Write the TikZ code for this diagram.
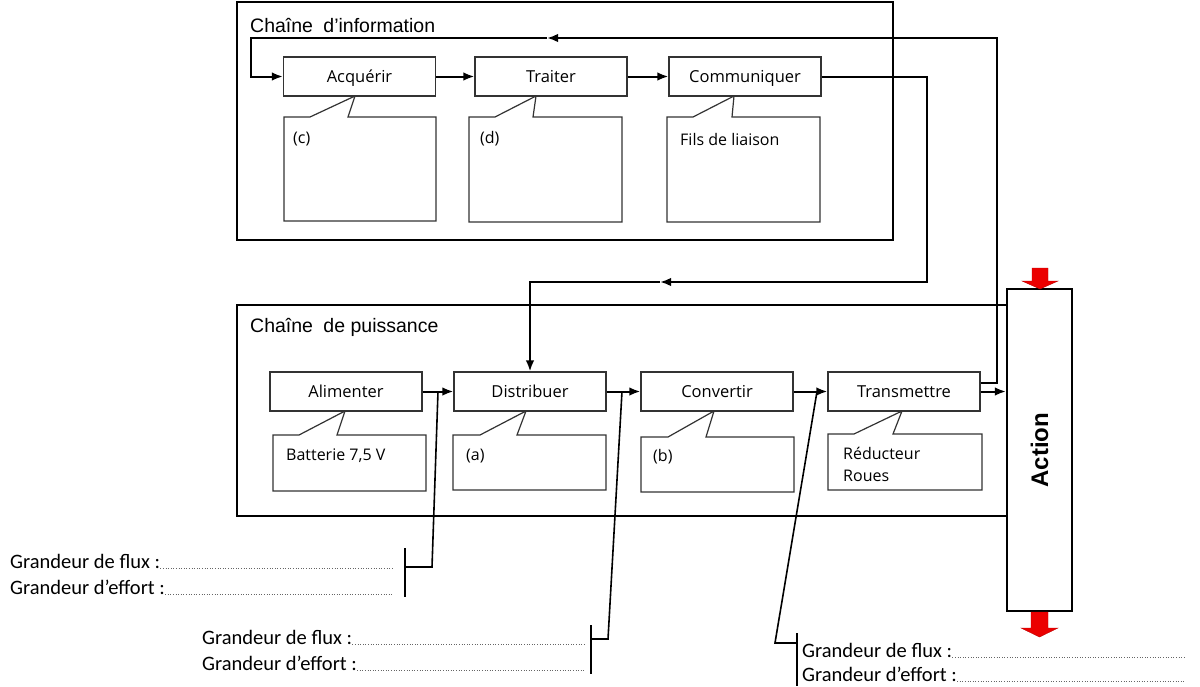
\documentclass[tikz,border=0pt]{standalone}
\usepackage{fontspec}
\setmainfont{Open Sans}
\newfontfamily\arialf{Liberation Sans}
\newfontfamily\calif{Carlito}
\usetikzlibrary{arrows.meta,calc}
\begin{document}
\begin{tikzpicture}[x=1pt,y=-1pt,
  frame/.style={draw=black, line width=2.2pt},
  fbox/.style={draw=black!80, line width=1.2pt, fill=white, minimum width=152pt, minimum height=39pt, inner sep=0pt, text height=14pt, text depth=2pt, font=\fontsize{16.5}{19}\selectfont},
  callout/.style={draw=black!80, line width=1.2pt, fill=white, line join=miter},
  ctext/.style={anchor=west, inner sep=0pt, font=\fontsize{16}{19}\selectfont},
  conn/.style={line width=2pt, draw=black},
  arr/.style={-{Latex[length=11pt,width=8.5pt]}},
  lead/.style={line width=1.6pt, draw=black},
  gtext/.style={anchor=base west, inner sep=0pt, font=\calif\fontsize{20.5}{24}\selectfont},
  dotl/.style={draw=black!60, line width=0.6pt, dotted},
  title/.style={anchor=west, inner sep=0pt, font=\arialf\fontsize{19.5}{22}\selectfont},
  redarrow/.style={fill={rgb,255:red,235;green,0;blue,0}, draw={rgb,255:red,190;green,0;blue,0}, line width=0.4pt}
]
\useasboundingbox (0,0) rectangle (1200,686);

% frames
\draw[frame] (237,2) rectangle (893,240);
\draw[frame] (237,305) rectangle (1007,516);
\node[title] (t1) at (250,25) {Chaîne\hspace{5pt} d’information};
\node[title] (t2) at (250,327) {Chaîne\hspace{5pt} de puissance};

% info callouts
\draw[callout] (284,117) -- (310,117) -- (355,96) -- (348,117) -- (436,117) -- (436,221) -- (284,221) -- cycle;
\draw[callout] (469,117) -- (495,117) -- (536,96) -- (533,117) -- (622,117) -- (622,222) -- (469,222) -- cycle;
\draw[callout] (667,117) -- (693,117) -- (734,96) -- (732,117) -- (820,117) -- (820,222) -- (667,222) -- cycle;
\node[ctext] (cc) at (293,139) {(c)};
\node[ctext] (cd) at (480,139) {(d)};
\node[ctext] (cf) at (680,139) {Fils de liaison};

% power callouts
\draw[callout] (273,435) -- (299,435) -- (345,411) -- (337,435) -- (426,435) -- (426,491) -- (273,491) -- cycle;
\draw[callout] (453,435) -- (480,435) -- (526,411) -- (517,435) -- (606,435) -- (606,490) -- (453,490) -- cycle;
\draw[callout] (641,437) -- (668,437) -- (714,411) -- (706,437) -- (794,437) -- (794,492) -- (641,492) -- cycle;
\draw[callout] (828,434) -- (854,434) -- (902,411) -- (893,434) -- (982,434) -- (982,490) -- (828,490) -- cycle;
\node[ctext] (cbat) at (286,456) {Batterie 7,5 V};
\node[ctext] (ca) at (466,456) {(a)};
\node[ctext] (cb) at (653,457) {(b)};
\node[ctext] (cr1) at (843,453) {Réducteur};
\node[ctext] (cr2) at (843,476) {Roues};

% info boxes
\node[fbox] (Acq) at (359.5,76.5) {Acquérir};
\node[fbox] (Trt) at (551,76.5) {Traiter};
\node[fbox] (Com) at (745,76.5) {Communiquer};

% power boxes
\node[fbox] (Ali) at (346,391.5) {Alimenter};
\node[fbox] (Dis) at (530,391.5) {Distribuer};
\node[fbox] (Cnv) at (717,391.5) {Convertir};
\node[fbox] (Tra) at (904,391.5) {Transmettre};

% action
\node[draw=black, line width=2.2pt, fill=white, minimum width=65pt, minimum height=322pt, inner sep=0pt] (Act) at (1039.5,450) {};
\node[rotate=90, inner sep=0pt, font=\arialf\bfseries\fontsize{24}{28}\selectfont] (ActT) at (Act.center) {Action};
\draw[redarrow] (1032,268) -- (1048,268) -- (1048,281) -- (1058,281) -- (1040,289) -- (1022,281) -- (1032,281) -- cycle;
\draw[redarrow] (1031,612) -- (1048,612) -- (1048,628) -- (1058,628) -- (1039.5,637) -- (1021,628) -- (1031,628) -- cycle;

% info connectors
\draw[conn,arr] (Acq.east) -- (Trt.west);
\draw[conn,arr] (Trt.east) -- (Com.west);
\coordinate (c1) at (927,282);
\coordinate (c2) at (660,282);
\draw[conn,arr] (Com.east) -| (c1) -- (c2);
\draw[conn,arr] (c2) -| (Dis.north);

% feedback
\coordinate (fbR) at (997,38);
\coordinate (fbM) at (547,38);
\coordinate (fbL) at (251,38);
\draw[conn,arr] ([yshift=8.5pt]Tra.east) -| (fbR) -- (fbM);
\draw[conn,arr] (fbM) -- (fbL) |- (Acq.west);

% power connectors
\draw[conn,arr] (Ali.east) -- (Dis.west);
\draw[conn,arr] (Dis.east) -- (Cnv.west);
\draw[conn,arr] (Cnv.east) -- (Tra.west);
\draw[conn,arr] (Tra.east) -- (Tra.east -| Act.west);

% leaders
\coordinate (l1s) at (438,391.5);
\coordinate (l1c) at (432,567);
\coordinate (l1e) at (405,567);
\coordinate (b1t) at (405,548);
\coordinate (b1b) at (405,597);
\draw[lead] (l1s) -- (l1c) -- (l1e);
\draw[lead] (b1t) -- (b1b);

\coordinate (l2s) at (622,391.5);
\coordinate (l2c) at (608,639);
\coordinate (l2e) at (591,639);
\coordinate (b2t) at (591,625);
\coordinate (b2b) at (591,674);
\draw[lead] (l2s) -- (l2c) -- (l2e);
\draw[lead] (b2t) -- (b2b);

\coordinate (l3s) at (817,391.5);
\coordinate (l3c) at (775,643);
\coordinate (l3e) at (797,643);
\coordinate (b3t) at (797,633);
\coordinate (b3b) at (797,686);
\draw[lead] (l3s) -- (l3c) -- (l3e);
\draw[lead] (b3t) -- (b3b);

% grandeur labels
\coordinate (e1) at (393,0);
\coordinate (e2) at (585,0);
\coordinate (e3) at (1185,0);
\node[gtext] (f1) at (10,568) {Grandeur de flux :};
\node[gtext] (g1) at (10,594) {Grandeur d’effort :};
\draw[dotl] (f1.base east) -- (f1.base east -| e1);
\draw[dotl] (g1.base east) -- (g1.base east -| e1);
\node[gtext] (f2) at (202,644) {Grandeur de flux :};
\node[gtext] (g2) at (202,670) {Grandeur d’effort :};
\draw[dotl] (f2.base east) -- (f2.base east -| e2);
\draw[dotl] (g2.base east) -- (g2.base east -| e2);
\node[gtext] (f3) at (802,657) {Grandeur de flux :};
\node[gtext] (g3) at (802,681) {Grandeur d’effort :};
\draw[dotl] (f3.base east) -- (f3.base east -| e3);
\draw[dotl] (g3.base east) -- (g3.base east -| e3);
\end{tikzpicture}
\end{document}
